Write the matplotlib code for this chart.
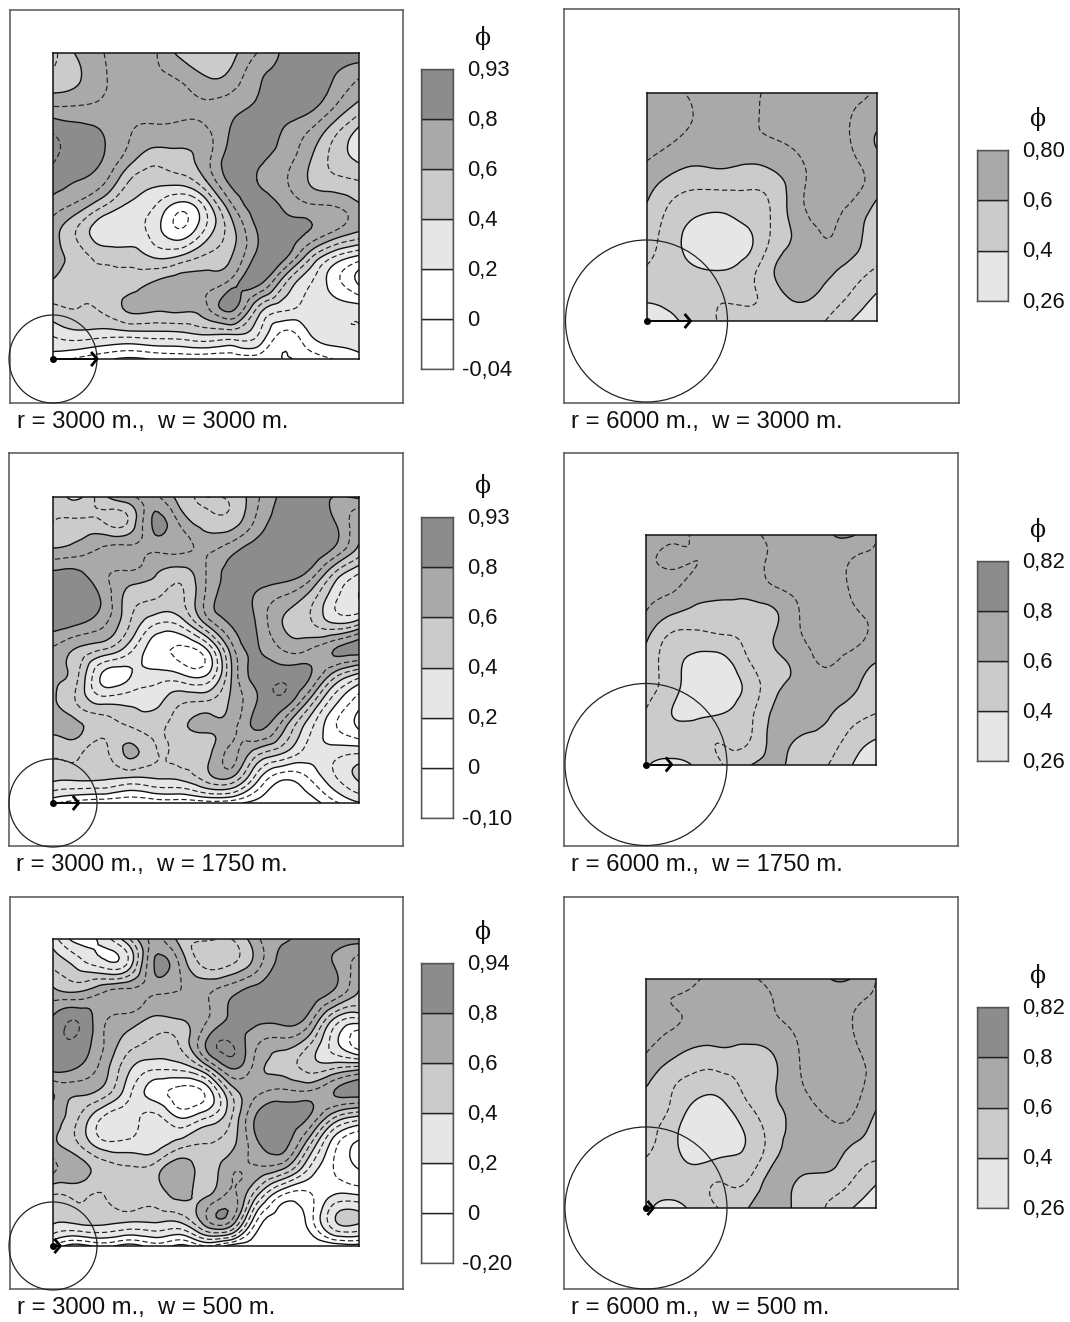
import numpy as np
import matplotlib
matplotlib.use("Agg")
import matplotlib.pyplot as plt
from matplotlib.patches import Circle
from matplotlib.tri import Triangulation, UniformTriRefiner

plt.rcParams['font.family'] = ['Liberation Sans', 'DejaVu Sans']

W, H = 1070, 1322

# phi values, rows go from top to bottom
phi_r3000_w3000 = [
    [.47, .62, .70, .74, .71, .57, .52, .57, .70, .81, .85, .88, .88],
    [.53, .59, .69, .73, .72, .69, .61, .64, .78, .84, .88, .80, .70],
    [.68, .69, .72, .74, .73, .73, .71, .75, .81, .86, .85, .72, .58],
    [.88, .83, .79, .71, .68, .67, .69, .81, .87, .80, .71, .55, .38],
    [.92, .85, .80, .66, .56, .58, .66, .85, .84, .76, .63, .47, .36],
    [.85, .80, .72, .50, .43, .45, .60, .83, .80, .72, .60, .53, .50],
    [.75, .66, .50, .38, .30, .15, .33, .68, .84, .79, .72, .70, .62],
    [.65, .48, .33, .32, .25, .12, .33, .56, .80, .86, .80, .70, .60],
    [.63, .55, .47, .46, .39, .42, .52, .60, .83, .84, .55, .30, .17],
    [.59, .53, .52, .55, .61, .66, .66, .74, .84, .55, .32, .15, -.02],
    [.48, .50, .52, .62, .62, .63, .68, .83, .50, .33, .27, .25, .24],
    [.32, .37, .35, .36, .37, .38, .42, .42, .32, .08, .19, .27, .28],
    [.15, .08, .02, -.02, .01, .03, .02, .03, .04, .00, .03, .10, .17],
]
phi_r3000_w1750 = [
    [.50, .38, .58, .68, .72, .55, .50, .52, .68, .82, .84, .80, .82],
    [.50, .52, .50, .52, .82, .68, .55, .55, .73, .85, .87, .81, .62],
    [.60, .64, .71, .72, .73, .73, .68, .75, .85, .87, .89, .80, .58],
    [.82, .82, .72, .68, .61, .55, .70, .84, .87, .85, .78, .50, .30],
    [.87, .88, .77, .55, .50, .48, .72, .85, .78, .68, .56, .33, .20],
    [.84, .80, .71, .50, .30, .32, .60, .81, .79, .60, .53, .42, .50],
    [.68, .58, .49, .33, .14, .08, .18, .65, .81, .70, .70, .80, .85],
    [.62, .50, .17, .19, .24, .22, .20, .60, .84, .87, .82, .55, .35],
    [.62, .48, .36, .37, .37, .48, .50, .62, .80, .87, .60, .25, .05],
    [.63, .62, .53, .50, .47, .57, .62, .66, .82, .65, .35, .12, -.02],
    [.52, .52, .47, .62, .51, .53, .56, .72, .55, .42, .26, .25, .28],
    [.43, .43, .42, .40, .41, .43, .55, .60, .25, .03, .10, .28, .42],
    [.12, .05, .02, .01, .03, .03, .05, .03, -.04, -.05, -.05, .07, .19],
]
phi_r3000_w500 = [
    [.35, .15, .25, .50, .72, .56, .52, .50, .68, .78, .84, .85, .85],
    [.48, .36, .25, .35, .81, .68, .47, .50, .66, .85, .87, .80, .65],
    [.62, .58, .68, .72, .73, .70, .68, .76, .84, .87, .88, .80, .60],
    [.80, .87, .73, .68, .60, .62, .68, .82, .85, .85, .79, .45, .35],
    [.87, .88, .70, .55, .48, .52, .80, .89, .72, .67, .55, .25, .02],
    [.84, .80, .65, .42, .33, .35, .55, .82, .65, .56, .46, .47, .52],
    [.60, .62, .55, .32, .15, .05, .12, .52, .68, .73, .72, .80, .85],
    [.65, .50, .28, .25, .33, .20, .30, .50, .82, .86, .80, .50, .35],
    [.62, .50, .33, .33, .35, .45, .50, .57, .78, .84, .55, .15, -.02],
    [.72, .66, .55, .52, .55, .68, .55, .68, .68, .60, .30, .10, .00],
    [.50, .52, .50, .55, .54, .63, .58, .72, .42, .10, .08, .20, .20],
    [.42, .44, .44, .42, .42, .43, .68, .70, .10, -.05, .03, .38, .42],
    [.10, -.05, .03, -.05, .05, -.03, .10, -.05, -.05, -.10, -.10, -.08, -.05],
]
phi_r6000_w3000 = [
    [.75, .72, .68, .66, .68, .72, .74, .74, .73, .69],
    [.75, .74, .69, .66, .68, .73, .76, .76, .70, .64],
    [.74, .70, .66, .65, .67, .69, .73, .77, .70, .59],
    [.68, .62, .59, .60, .58, .61, .68, .75, .73, .66],
    [.62, .52, .48, .48, .49, .53, .68, .74, .72, .62],
    [.57, .46, .39, .38, .43, .52, .66, .72, .66, .55],
    [.54, .44, .35, .34, .38, .54, .63, .69, .64, .53],
    [.49, .45, .41, .40, .46, .60, .66, .63, .56, .49],
    [.43, .43, .46, .485, .485, .56, .62, .57, .49, .39],
    [.30, .39, .43, .52, .54, .55, .55, .50, .40, .30],
]
phi_r6000_w1750 = [
    [.73, .72, .69, .67, .68, .72, .75, .78, .81, .71],
    [.72, .69, .70, .67, .66, .72, .75, .76, .70, .66],
    [.71, .71, .67, .65, .64, .70, .73, .75, .69, .60],
    [.70, .62, .57, .56, .56, .59, .70, .75, .72, .66],
    [.62, .48, .47, .49, .52, .60, .69, .74, .74, .66],
    [.56, .44, .36, .36, .49, .57, .64, .71, .66, .60],
    [.54, .44, .34, .335, .43, .57, .64, .66, .62, .55],
    [.49, .40, .38, .40, .47, .62, .67, .62, .55, .50],
    [.44, .44, .46, .49, .49, .63, .59, .56, .47, .40],
    [.41, .37, .42, .50, .59, .62, .56, .51, .41, .30],
]
phi_r6000_w500 = [
    [.73, .72, .705, .67, .685, .72, .75, .79, .80, .70],
    [.72, .70, .69, .67, .66, .70, .75, .76, .72, .66],
    [.72, .70, .67, .65, .65, .67, .72, .76, .71, .60],
    [.695, .62, .56, .57, .56, .60, .70, .75, .73, .65],
    [.62, .52, .47, .47, .53, .59, .69, .75, .74, .66],
    [.55, .49, .37, .38, .49, .58, .65, .72, .72, .61],
    [.53, .44, .31, .33, .42, .55, .64, .68, .66, .55],
    [.50, .44, .37, .40, .43, .58, .66, .66, .56, .51],
    [.43, .44, .46, .50, .51, .65, .58, .55, .50, .41],
    [.42, .37, .44, .51, .60, .66, .56, .50, .41, .31],
]

captions = [
    "r = 3000 m.,  w = 3000 m.", "r = 6000 m.,  w = 3000 m.",
    "r = 3000 m.,  w = 1750 m.", "r = 6000 m.,  w = 1750 m.",
    "r = 3000 m.,  w = 500 m.", "r = 6000 m.,  w = 500 m.",
]
radii = [3000, 6000, 3000, 6000, 3000, 6000]
widths = [3000, 3000, 1750, 1750, 500, 500]
grids = [phi_r3000_w3000, phi_r6000_w3000, phi_r3000_w1750,
         phi_r6000_w1750, phi_r3000_w500, phi_r6000_w500]
scale_labels = [
    ['0,93', '0,8', '0,6', '0,4', '0,2', '0', '-0,04'],
    ['0,80', '0,6', '0,4', '0,26'],
    ['0,93', '0,8', '0,6', '0,4', '0,2', '0', '-0,10'],
    ['0,82', '0,8', '0,6', '0,4', '0,26'],
    ['0,94', '0,8', '0,6', '0,4', '0,2', '0', '-0,20'],
    ['0,82', '0,8', '0,6', '0,4', '0,26'],
]

fill_levels = [-1, 0, .2, .4, .6, .8, 1.2]
fill_colors = ['#ffffff', '#ffffff', '#e6e6e6', '#cbcbcb', '#a9a9a9', '#8c8c8c']
solid_levels = [0, .2, .4, .6, .8]
dash_levels = [.1, .3, .5, .7, .9]

# pixel boxes: frame, map, colour scale (left, top, right, bottom)
frames = [(10, 10, 403, 403), (564, 9, 959, 403), (9, 453, 403, 846),
          (564, 453, 958, 846), (10, 897, 403, 1289), (564, 897, 958, 1289)]
maps = [(53, 53, 359, 359), (646.5, 92.5, 876.5, 321), (53, 497, 359, 803),
        (646, 535, 876, 764.5), (53, 939, 359, 1246), (646, 979, 876, 1208)]
scales = [(421, 69, 453, 369), (977, 150, 1008, 301), (421, 517, 453, 818),
          (977, 561, 1008, 761), (421, 963, 453, 1263), (977, 1007, 1008, 1208)]


def px_axes(fig, box, **kw):
    l, t, r, b = box
    return fig.add_axes([l / W, 1 - b / H, (r - l) / W, (b - t) / H], **kw)


def draw_map(ax, grid):
    z = np.array(grid, dtype=float)
    n = z.shape[0]
    xx, yy = np.meshgrid(np.linspace(0, 1, n), np.linspace(1, 0, n))
    tri = Triangulation(xx.ravel(), yy.ravel())
    tri_f, z_f = UniformTriRefiner(tri).refine_field(z.ravel(), subdiv=3)
    ax.tricontourf(tri_f, z_f, levels=fill_levels, colors=fill_colors)
    ax.tricontour(tri_f, z_f, levels=solid_levels, colors='#111111',
                  linewidths=1.0, linestyles='solid')
    cs = ax.tricontour(tri_f, z_f, levels=dash_levels, colors='#222222',
                       linewidths=0.85)
    cs.set_linestyle((0, (4.5, 2.5)))
    ax.set_xlim(0, 1)
    ax.set_ylim(0, 1)
    ax.set_xticks([])
    ax.set_yticks([])
    for s in ax.spines.values():
        s.set_linewidth(1.1)
        s.set_color('#111111')


def draw_scale(fig, box, labels):
    ax = px_axes(fig, box)
    nb = len(labels) - 1
    # the 0,80 scale stops at the 0,6-0,8 band
    cols = fill_colors[-nb:] if labels[0] != '0,80' else fill_colors[-4:-1]
    y = np.arange(nb)
    ax.bar(np.zeros(nb), np.ones(nb), bottom=y, width=1, color=cols,
           edgecolor='#222222', linewidth=1.0, align='center')
    ax.set_xlim(-.5, .5)
    ax.set_ylim(0, nb)
    ax.set_xticks([])
    ax.set_yticks([])
    for s in ax.spines.values():
        s.set_linewidth(1.0)
        s.set_color('#555555')
    l, t, r, b = box
    step = (b - t) / nb
    for i, lab in enumerate(labels):
        xt = r + 14 if not lab.startswith('-') else r + 9
        fig.text(xt / W, 1 - (t + i * step) / H - 0.0008, lab, fontsize=15.8,
                 va='center', ha='left', color='#111111')
    fig.text((r + 29) / W, 1 - (t - 31) / H, '\u03d5', fontsize=17,
             family=['DejaVu Serif'], va='center', ha='center', color='#111111')


fig = plt.figure(figsize=(W / 100, H / 100), dpi=100, facecolor='white')

for i in range(6):
    fr = px_axes(fig, frames[i])
    fr.set_xticks([])
    fr.set_yticks([])
    for s in fr.spines.values():
        s.set_linewidth(1.1)
        s.set_color('#555555')
    ax = px_axes(fig, maps[i])
    draw_map(ax, grids[i])
    draw_scale(fig, scales[i], scale_labels[i])
    fig.text((frames[i][0] + 7) / W, 1 - (frames[i][3] + 19) / H, captions[i],
             fontsize=17.2, va='center', ha='left', color='#111111')

# overlay in pixels for the circles and arrows
over = fig.add_axes([0, 0, 1, 1], facecolor='none')
over.set_xlim(0, W)
over.set_ylim(H, 0)
over.axis('off')
for i in range(6):
    cx, cy = maps[i][0], maps[i][3]
    r_px = 44 if radii[i] == 3000 else 81
    over.add_patch(Circle((cx, cy), r_px, fill=False, ec='#222222', lw=0.9))
    a_len = 44 * widths[i] / 3000
    over.plot([cx, cx + a_len], [cy, cy], color='black', lw=1.2)
    over.plot([cx + a_len - 5, cx + a_len, cx + a_len - 5],
              [cy - 6, cy, cy + 6], color='black', lw=2)
    over.plot([cx], [cy], 'o', color='black', ms=4)

fig.savefig('out.png', dpi=100)
